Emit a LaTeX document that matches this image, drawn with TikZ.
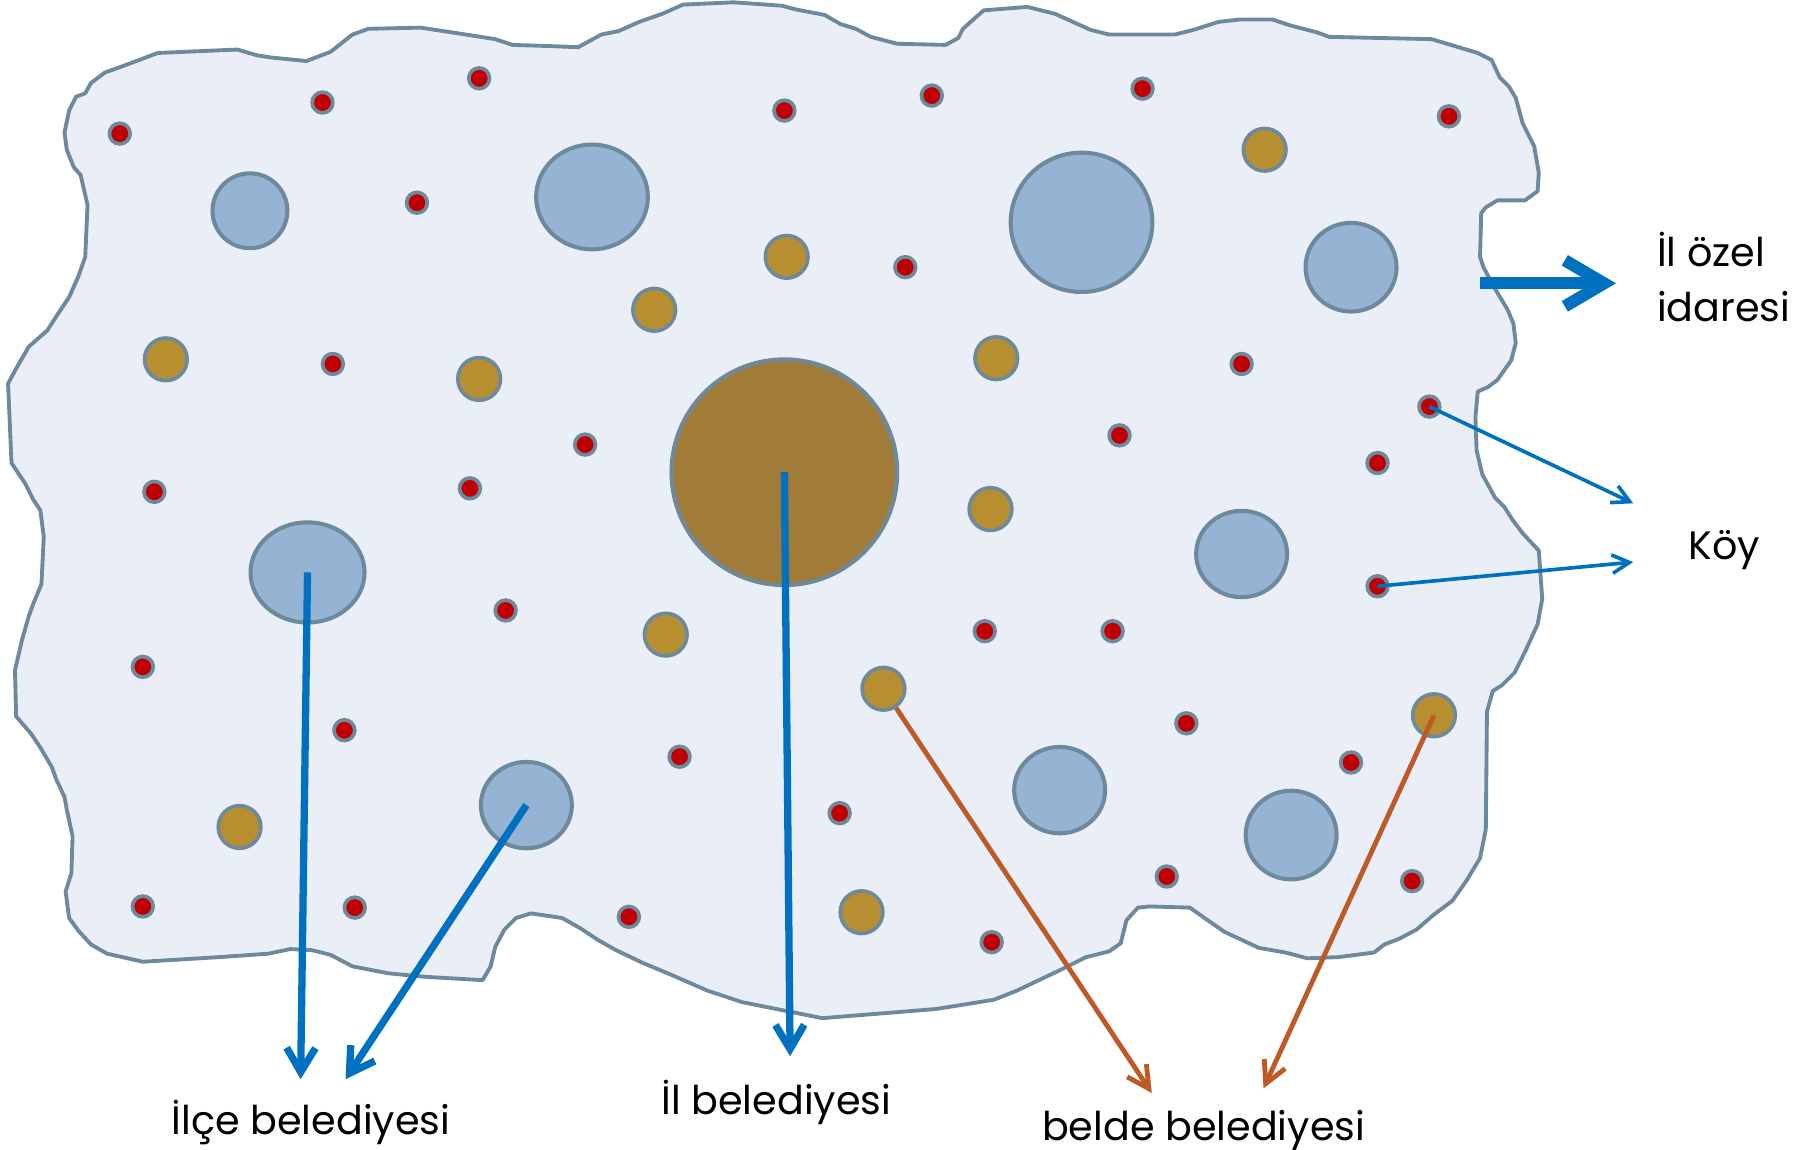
\documentclass[tikz,border=0pt]{standalone}
\usepackage{fontspec}
\setmainfont{Poppins}
\usetikzlibrary{arrows.meta,shapes.geometric}
\definecolor{edgegray}{RGB}{109,137,158}
\definecolor{landfill}{RGB}{234,239,247}
\definecolor{ilcefill}{RGB}{149,179,210}
\definecolor{beldefill}{RGB}{184,143,48}
\definecolor{ilfill}{RGB}{160,124,56}
\definecolor{koyfill}{RGB}{192,0,0}
\definecolor{arrowblue}{RGB}{0,112,192}
\definecolor{arroworange}{RGB}{190,90,40}

\begin{document}
\begin{tikzpicture}[x=0.1mm, y=-0.1mm,
    land/.style ={draw=edgegray, fill=landfill, line width=0.95pt, line join=round},
    koy/.style ={circle, draw=edgegray, fill=koyfill, line width=0.9pt, inner sep=0pt, minimum size=1.8mm},
    belde/.style ={circle, draw=edgegray, fill=beldefill, line width=0.9pt, inner sep=0pt, minimum size=3.7mm},
    ilce/.style ={ellipse, draw=edgegray, fill=ilcefill, line width=1pt, inner sep=0pt},
    il/.style ={circle, draw=edgegray, fill=ilfill, line width=1pt, inner sep=0pt, minimum size=19.6mm},
    tag/.style ={font=\fontsize{9.8}{13.6}\selectfont, inner sep=0pt},
    ozelarrow/.style ={draw=arrowblue, line width=3pt, -{Straight Barb[length=3.4mm,width=4mm]}},
    longarrow/.style ={draw=arrowblue, line width=1.8pt, -{Straight Barb[length=2.1mm,width=2.5mm]}},
    koyarrow/.style ={draw=arrowblue, line width=0.9pt, -{Straight Barb[length=1.5mm,width=1.6mm]}},
    beldearrow/.style ={draw=arroworange, line width=1.2pt, -{Straight Barb[length=1.9mm,width=2mm]}}]
   \useasboundingbox (0,0) rectangle (1568,998);
   \draw[land] (56,115) -- (60,96) -- (66,84) -- (74,81) -- (79,72) -- (91,63) -- (105,58) -- (137,46)
     -- (206,43) -- (223,48) -- (236,50) -- (266,53) -- (287,45) -- (306,30) -- (320,25) -- (365,24)
     -- (398,29) -- (430,34) -- (445,39) -- (477,40) -- (502,41) -- (522,30) -- (537,27) -- (555,19)
     -- (575,12) -- (593,4) -- (637,2) -- (679,5) -- (690,8) -- (716,13) -- (730,21) -- (743,25)
     -- (756,32) -- (779,38) -- (821,39) -- (832,33) -- (836,25) -- (854,9) -- (892,6) -- (916,12)
     -- (947,26) -- (963,30) -- (1020,30) -- (1036,26) -- (1058,19) -- (1076,17) -- (1105,17)
     -- (1120,22) -- (1143,28) -- (1154,32) -- (1243,34) -- (1283,46) -- (1295,52) -- (1302,67)
     -- (1310,75) -- (1316,85) -- (1322,107) -- (1332,127) -- (1336,150) -- (1335,166) -- (1324,174)
     -- (1300,174) -- (1290,180) -- (1286,185) -- (1285,223) -- (1288,232) -- (1297,249) -- (1309,269)
     -- (1314,281) -- (1316,298) -- (1312,313) -- (1300,330) -- (1292,336) -- (1283,340) -- (1281,362)
     -- (1282,391) -- (1287,412) -- (1298,432) -- (1306,440) -- (1313,451) -- (1322,463) -- (1336,478)
     -- (1339,520) -- (1335,542) -- (1324,566) -- (1315,584) -- (1304,595) -- (1296,600) -- (1291,618)
     -- (1290,720) -- (1285,745) -- (1273,765) -- (1261,782) -- (1245,794) -- (1230,807) -- (1215,815)
     -- (1202,820) -- (1193,827) -- (1162,831) -- (1135,832) -- (1116,827) -- (1093,823) -- (1078,816)
     -- (1063,809) -- (1050,800) -- (1033,788) -- (998,787) -- (988,788) -- (978,799) -- (973,819)
     -- (963,826) -- (943,831) -- (923,841) -- (883,860) -- (863,868) -- (813,876) -- (714,884)
     -- (684,878) -- (644,870) -- (614,860) -- (582,846) -- (558,836) -- (535,825) -- (519,816)
     -- (504,806) -- (488,797) -- (461,793) -- (448,797) -- (438,807) -- (430,822) -- (426,839)
     -- (419,851) -- (368,848) -- (337,845) -- (306,839) -- (287,829) -- (271,825) -- (252,824)
     -- (233,828) -- (190,831) -- (124,835) -- (93,828) -- (79,820) -- (68,808) -- (60,797)
     -- (57,774) -- (62,758) -- (63,726) -- (58,703) -- (56,692) -- (49,677) -- (45,666) -- (35,649)
     -- (27,637) -- (14,622) -- (13,582) -- (19,556) -- (25,535) -- (29,524) -- (36,507) -- (38,466)
     -- (35,443) -- (29,434) -- (22,420) -- (10,402) -- (7,333) -- (14,320) -- (25,301) -- (41,287)
     -- (50,273) -- (60,258) -- (68,240) -- (74,223) -- (76,178) -- (70,152) -- (64,145) -- (58,130)
     -- cycle;
   \foreach \x/\y/\w/\h [count=\i] in {217/183/6.5/6.5, 514/171/9.7/9.1, 939/193/12.3/12.1,
       1173/232/7.9/7.7, 267/497/9.9/8.7, 457/699/7.9/7.5, 1078/481/7.9/7.5, 920/686/7.9/7.5,
       1121/725/7.9/7.7}
     \node[ilce, minimum width=\w mm, minimum height=\h mm] (ilce\i) at (\x,\y) {};
   \foreach \x/\y [count=\i] in {144/312, 416/329, 568/269, 683/223, 1098/130, 865/311, 860/442,
       578/551, 767/598, 1245/621, 208/718, 748/792}
     \node[belde] (belde\i) at (\x,\y) {};
   \foreach \x/\y [count=\i] in {104/116, 280/89, 416/68, 362/176, 681/96, 809/83, 992/77, 1258/101,
       786/232, 289/316, 508/386, 134/427, 408/424, 1078/316, 1241/353, 972/378, 1196/402, 1196/509,
       439/530, 124/579, 855/548, 966/548, 299/634, 590/657, 1030/628, 1173/662, 729/706, 1013/761,
       1226/765, 124/787, 308/788, 546/796, 861/818}
     \node[koy] (koy\i) at (\x,\y) {};
   \node[il] (il) at (681,410) {};
   \node[tag, anchor=base west, align=left] (ozeltext) at (1438,279) {İl özel\\idaresi};
   \node[tag, anchor=base] (koytext) at (1497,486) {Köy};
   \node[tag, anchor=base] (ilcetext) at (270,985) {İlçe belediyesi};
   \node[tag, anchor=base] (iltext) at (674,968) {İl belediyesi};
   \node[tag, anchor=base] (beldetext) at (1045,990) {belde belediyesi};
   \coordinate (ozelstart) at (1285,246);
   \coordinate (ozeltip) at (1403,246);
   \coordinate (koytip1) at (1418,437);
   \coordinate (koytip2) at (1418,488);
   \coordinate (ilcetip1) at (261,937);
   \coordinate (ilcetip2) at (300,937);
   \coordinate (iltip) at (686,917);
   \coordinate (beldetip1) at (1000,949);
   \coordinate (beldetip2) at (1097,945);
   \draw[ozelarrow] (ozelstart) -- (ozeltip);
   \draw[koyarrow] (koy15.center) -- (koytip1);
   \draw[koyarrow] (koy18.center) -- (koytip2);
   \draw[longarrow] (ilce5.center) -- (ilcetip1);
   \draw[longarrow] (ilce6.center) -- (ilcetip2);
   \draw[longarrow] (il.center) -- (iltip);
   \draw[beldearrow] (belde9) -- (beldetip1);
   \draw[beldearrow] (belde10.center) -- (beldetip2);
 \end{tikzpicture}
\end{document}
